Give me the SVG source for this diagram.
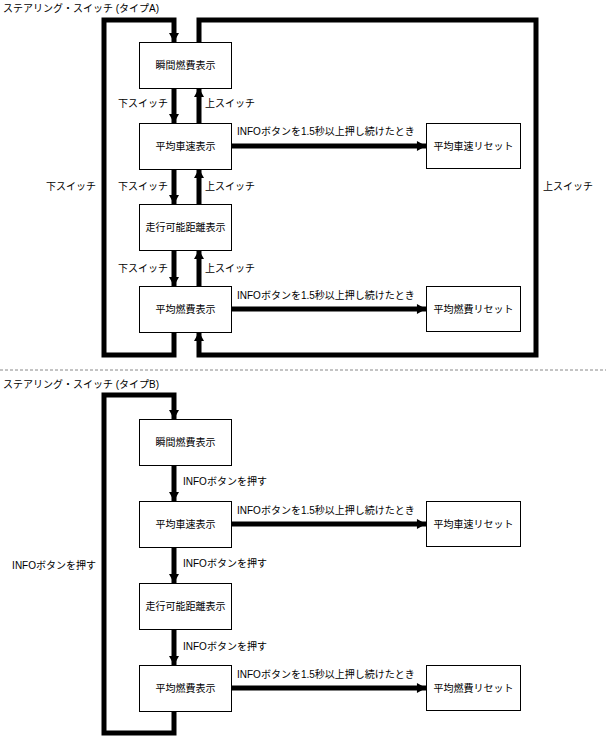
<svg xmlns="http://www.w3.org/2000/svg" width="606" height="738" viewBox="0 0 606 738">
<style>
text{font-family:"Liberation Sans","Noto Sans CJK JP",sans-serif;font-size:10px;fill:#000}
.nt{text-anchor:middle}
.e{text-anchor:end}
.box{fill:#fff;stroke:#000;stroke-width:1}
.ln{fill:none;stroke:#000;stroke-width:5}
.dash{stroke:#888;stroke-width:1;stroke-dasharray:3 2}
</style>
<defs>
<marker id="ah" markerUnits="userSpaceOnUse" markerWidth="11" markerHeight="10" refX="10" refY="5.5" orient="auto" viewBox="0 0 10 11">
<path d="M0,0 L10,5.5 L0,11 Z" fill="#000"/>
</marker>
</defs>
<text x="3" y="12">ステアリング・スイッチ (タイプA)</text>
<text x="3" y="388">ステアリング・スイッチ (タイプB)</text>
<line class="dash" x1="0" y1="370" x2="606" y2="370"/>
<g id="connectors">
<path class="ln" d="M174,332 V355 H104 V20 H174 V42" marker-end="url(#ah)"/>
<path class="ln" d="M199,42 V20 H536 V355 H199 V332" marker-end="url(#ah)"/>
<line class="ln" x1="174" y1="88" x2="174" y2="123" marker-end="url(#ah)"/>
<line class="ln" x1="199" y1="123" x2="199" y2="88" marker-end="url(#ah)"/>
<line class="ln" x1="174" y1="169" x2="174" y2="204" marker-end="url(#ah)"/>
<line class="ln" x1="199" y1="204" x2="199" y2="169" marker-end="url(#ah)"/>
<line class="ln" x1="174" y1="250" x2="174" y2="286" marker-end="url(#ah)"/>
<line class="ln" x1="199" y1="286" x2="199" y2="250" marker-end="url(#ah)"/>
<line class="ln" x1="232" y1="146" x2="426" y2="146" marker-end="url(#ah)"/>
<line class="ln" x1="232" y1="309" x2="426" y2="309" marker-end="url(#ah)"/>
<path class="ln" d="M174,711 V733 H104 V395 H174 V419" marker-end="url(#ah)"/>
<line class="ln" x1="174" y1="465" x2="174" y2="501" marker-end="url(#ah)"/>
<line class="ln" x1="174" y1="547" x2="174" y2="583" marker-end="url(#ah)"/>
<line class="ln" x1="174" y1="629" x2="174" y2="665" marker-end="url(#ah)"/>
<line class="ln" x1="232" y1="524" x2="426" y2="524" marker-end="url(#ah)"/>
<line class="ln" x1="232" y1="688" x2="426" y2="688" marker-end="url(#ah)"/>
<text class="e" x="168" y="107">下スイッチ</text>
<text x="205" y="107">上スイッチ</text>
<text class="e" x="168" y="190">下スイッチ</text>
<text x="205" y="190">上スイッチ</text>
<text class="e" x="168" y="272">下スイッチ</text>
<text x="205" y="272">上スイッチ</text>
<text class="e" x="96" y="190">下スイッチ</text>
<text x="543" y="190">上スイッチ</text>
<text x="237" y="135">INFOボタンを1.5秒以上押し続けたとき</text>
<text x="237" y="299">INFOボタンを1.5秒以上押し続けたとき</text>
<text x="183" y="485">INFOボタンを押す</text>
<text x="183" y="567">INFOボタンを押す</text>
<text x="183" y="650">INFOボタンを押す</text>
<text class="e" x="96" y="569">INFOボタンを押す</text>
<text x="237" y="514">INFOボタンを1.5秒以上押し続けたとき</text>
<text x="237" y="678">INFOボタンを1.5秒以上押し続けたとき</text>
</g>
<g id="a1"><rect class="box" x="139.5" y="42.5" width="92" height="46"/><text class="nt" x="185.5" y="69">瞬間燃費表示</text></g>
<g id="a2"><rect class="box" x="139.5" y="123.5" width="92" height="46"/><text class="nt" x="185.5" y="150">平均車速表示</text></g>
<g id="a3"><rect class="box" x="139.5" y="204.5" width="92" height="46"/><text class="nt" x="185.5" y="231">走行可能距離表示</text></g>
<g id="a4"><rect class="box" x="139.5" y="286.5" width="92" height="46"/><text class="nt" x="185.5" y="313">平均燃費表示</text></g>
<g id="a5"><rect class="box" x="426.5" y="123.5" width="94" height="45"/><text class="nt" x="473.5" y="150">平均車速リセット</text></g>
<g id="a6"><rect class="box" x="426.5" y="286.5" width="94" height="45"/><text class="nt" x="473.5" y="313">平均燃費リセット</text></g>
<g id="b1"><rect class="box" x="139.5" y="419.5" width="92" height="46"/><text class="nt" x="185.5" y="446">瞬間燃費表示</text></g>
<g id="b2"><rect class="box" x="139.5" y="501.5" width="92" height="46"/><text class="nt" x="185.5" y="528">平均車速表示</text></g>
<g id="b3"><rect class="box" x="139.5" y="583.5" width="92" height="46"/><text class="nt" x="185.5" y="610">走行可能距離表示</text></g>
<g id="b4"><rect class="box" x="139.5" y="665.5" width="92" height="46"/><text class="nt" x="185.5" y="692">平均燃費表示</text></g>
<g id="b5"><rect class="box" x="426.5" y="501.5" width="94" height="45"/><text class="nt" x="473.5" y="528">平均車速リセット</text></g>
<g id="b6"><rect class="box" x="426.5" y="665.5" width="94" height="45"/><text class="nt" x="473.5" y="692">平均燃費リセット</text></g>
</svg>
